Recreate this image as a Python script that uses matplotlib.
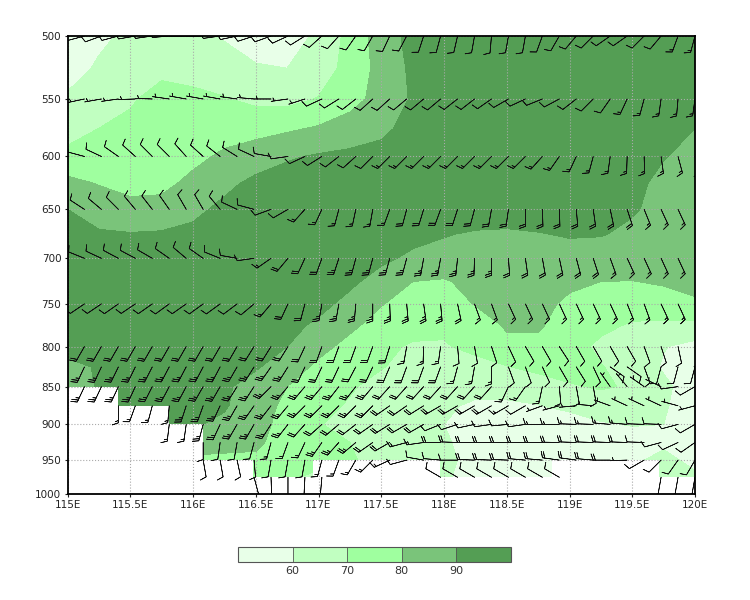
import numpy as np
import matplotlib
matplotlib.use('Agg')
import matplotlib.pyplot as plt

nan = float('nan')

# Relative humidity (rows = pressure, columns = longitude)
rh_lons = [115, 115.25, 115.5, 115.75, 116, 116.25, 116.5, 116.75, 117, 117.25, 117.5,
           117.75, 118, 118.25, 118.5, 118.75, 119, 119.25, 119.5, 119.75, 120]
rh_levs = [500, 525, 550, 575, 600, 625, 650, 675, 700, 725, 750, 775, 800, 825, 850, 875, 900, 925, 950, 975, 1000]
rh = [
    [52, 57, 63, 66, 63, 59, 55, 55, 62, 73, 85, 93, 94, 95, 95, 95, 95, 95, 95, 95, 95],
    [54, 62, 66, 68, 67, 65, 61, 60, 64, 74, 83, 92, 95, 95, 95, 95, 95, 95, 95, 95, 95],
    [62, 65, 69, 73, 72, 70.5, 68, 67, 70.5, 76, 84, 91, 94, 95, 95, 95, 95, 95, 95, 95, 94],
    [67, 70, 72, 74, 75, 75, 76, 78.5, 81, 85, 88, 93, 95, 95, 95, 95, 95, 95, 95, 94, 90],
    [72, 73, 74, 75, 77, 82, 86, 89, 91, 92, 93, 94, 95, 95, 95, 95, 95, 95, 94, 90.5, 87],
    [83, 79.5, 76, 77, 83, 88, 92, 94, 95, 95, 95, 95, 95, 95, 95, 95, 95, 95, 93, 87, 84],
    [90, 86, 84, 84, 88, 92, 94, 95, 95, 95, 95, 95, 95, 95, 95, 95, 95, 94, 91, 87, 85],
    [92, 91, 90.5, 91, 92, 93, 94, 94, 94, 93, 92.5, 91.5, 90.5, 89, 88.5, 89.5, 90.8, 90.5, 88, 85, 84],
    [93, 93, 93, 94, 94, 94, 94, 94, 94, 93, 91, 89, 87, 86, 85, 85, 86, 85.5, 85, 84, 83],
    [93, 93, 94, 94, 94, 94, 94, 94, 93, 91, 88, 80, 79, 83, 85, 84, 82, 80, 79.8, 81, 82],
    [93, 93, 94, 94, 94, 94, 94, 93, 91.5, 88.5, 80.5, 76, 75, 80.5, 85, 83, 78, 74, 74, 76, 79],
    [93, 94, 94, 94, 94, 94, 93, 91.5, 89, 82, 76, 73, 72, 75, 81, 81, 76, 72, 69, 68, 67],
    [94, 94, 94, 94, 94, 94, 93, 90, 83, 77, 72, 69, 69, 73, 78, 78, 74, 68, 63, 60.5, 57],
    [87, 91, 93, 94, 94, 93, 91, 85, 78, 73, 70.5, 67, 65, 66, 69.5, 73, 74, 70.5, 66, 59, 55],
    [83, 91, 93, 94, 93, 91.5, 86, 80, 75, 71, 67, 65, 63, 61, 61.5, 64, 69, 71, 69, 62, 55],
    [92, 92, 92, 92, 92, 91, 84, 78, 73, 69, 66, 63, 60.5, 59.5, 59.3, 59.7, 62, 65, 64, 61, 55],
    [92, 92, 92, 92, 91, 88, 83, 77, 70.5, 67, 65, 62, 60, 57, 55, 55, 56, 59, 60.5, 60, 55],
    [90, 90, 90, 90, 85, 83, 82, 75, 72, 70, 67, 64, 61, 57, 54, 54, 54, 54, 56, 58, 55],
    [80, 80, 80, 80, 78, 78, 78, 74, 74, 71, 67, 64, 61.5, 58, 55, 54, 54, 55, 58, 63, 57],
    [80, 80, 80, 80, 80, 80, 74, 72, 67, 66, 65, 63, 61, 57, 56, 56, 57, 60, 62, 64, 62],
    [80, 80, 80, 80, 80, 80, 74, 72, 67, 66, 65, 63, 61, 57, 56, 56, 57, 60, 62, 64, 62],
]
rh_levels = [60, 70, 80, 90]
rh_colors = ['#e8ffe8', '#c1ffc1', '#9fff9f', '#7ac47a', '#549e54']

# No data below ground: (start longitude of the step, pressure of its top)
ground_lon = [115, 115.40, 115.81, 116.08, 116.48, 116.96, 117.97, 118.86, 119.71, 120]
ground_top = [850, 875, 900, 950, 975, 950, 975, 950, 975, 975]

# Wind barbs: direction the wind comes from (degrees) and speed (knots)
barb_levs = [500, 550, 600, 650, 700, 750, 800, 825, 850, 875, 900, 925, 950, 975]
dir_500 = [255, 255, 250, 255, 260, 262, 265, 268, 268, 262, 258, 252, 250, 245, 238, 228, 222, 215, 210,
           205, 208, 198, 195, 193, 190, 185, 190, 190, 200, 210, 220, 225, 235, 235, 225, 220, 200, 195]
spd_500 = [10, 10, 10, 10, 10, 10, 10, 10, 10, 10, 10, 10, 10, 10, 10, 10, 10, 10, 10,
           10, 10, 10, 10, 10, 10, 10, 10, 10, 10, 10, 10, 10, 10, 10, 10, 10, 15, 15]
dir_550 = [258, 258, 260, 262, 268, 272, 278, 280, 280, 280, 278, 275, 270, 262, 252, 245, 238, 232, 228,
           228, 230, 230, 230, 232, 232, 235, 240, 245, 248, 242, 232, 225, 215, 205, 195, 188, 185, 188]
spd_550 = [5, 5, 5, 5, 5, 5, 5, 5, 5, 5, 5, 5, 5, 5, 5, 10, 10, 10, 10,
           10, 10, 10, 10, 10, 10, 10, 10, 10, 10, 10, 10, 10, 10, 15, 15, 15, 15, 15]
dir_600 = [280, 285, 295, 305, 312, 315, 315, 318, 312, 308, 302, 295, 280, 262, 245, 238, 232, 228, 225,
           225, 225, 225, 225, 225, 225, 225, 225, 225, 222, 215, 205, 195, 188, 182, 178, 172, 165, 165]
spd_600 = [10, 10, 10, 10, 10, 10, 10, 10, 10, 10, 10, 10, 10, 10, 10, 10, 10, 10, 10,
           15, 15, 15, 15, 15, 15, 15, 15, 15, 15, 15, 15, 15, 15, 15, 15, 15, 15, 15]
dir_650 = [300, 303, 310, 315, 320, 322, 325, 330, 330, 320, 295, 285, 250, 240, 222, 205, 195, 192, 190,
           200, 195, 197, 200, 198, 195, 190, 188, 180, 178, 178, 175, 172, 168, 162, 158, 155, 155, 155]
spd_650 = [10, 10, 10, 10, 10, 10, 10, 10, 10, 10, 10, 10, 10, 10, 15, 15, 15, 15, 15,
           15, 20, 20, 20, 20, 20, 20, 20, 20, 20, 20, 20, 20, 20, 20, 15, 15, 15, 15]
dir_700 = [290, 292, 295, 298, 298, 300, 305, 310, 305, 292, 280, 262, 235, 220, 205, 200, 198, 195, 195,
           195, 195, 190, 190, 186, 182, 180, 176, 172, 170, 168, 165, 162, 160, 155, 155, 155, 155, 155]
spd_700 = [10, 10, 10, 10, 10, 10, 10, 10, 10, 10, 10, 10, 15, 20, 20, 20, 25, 25, 25,
           25, 25, 25, 25, 25, 25, 25, 20, 20, 20, 20, 20, 20, 15, 15, 15, 15, 15, 15]
dir_750 = [235, 236, 236, 235, 236, 235, 234, 235, 234, 234, 233, 230, 220, 205, 195, 190, 190, 185, 180,
           178, 175, 172, 175, 168, 160, 160, 155, 155, 155, 155, 155, 155, 155, 158, 160, 155, 155, 155]
spd_750 = [10, 10, 10, 10, 10, 10, 10, 10, 10, 10, 10, 10, 15, 20, 20, 25, 25, 25, 25,
           25, 25, 25, 25, 20, 15, 15, 15, 15, 15, 15, 15, 15, 15, 15, 15, 15, 15, 15]
dir_800 = [210, 210, 210, 210, 210, 210, 210, 210, 210, 210, 210, 212, 212, 212, 205, 200, 200, 200, 200,
           197, 190, 182, 188, 175, 170, 162, 155, 150, 150, 147, 150, 150, 150, 150, 160, 162, 168, 165]
spd_800 = [20, 20, 20, 20, 20, 20, 20, 20, 20, 20, 20, 20, 20, 20, 20, 20, 20, 20, 20,
           20, 15, 15, 15, 10, 10, 10, 10, 10, 10, 10, 10, 10, 10, 10, 10, 10, 10, 10]
dir_825 = [205, 205, 205, 206, 206, 207, 208, 208, 208, 208, 210, 212, 215, 212, 205, 205, 205, 208, 205,
           203, 200, 200, 200, 195, 190, 180, 160, 160, 155, 150, 148, 155, 125, 125, 160, 195, 195, 195]
spd_825 = [25, 25, 25, 25, 25, 25, 25, 25, 25, 25, 25, 25, 25, 25, 20, 20, 20, 20, 20,
           20, 20, 20, 20, 15, 15, 15, 10, 10, 10, 10, 10, 10, 10, 10, 10, 10, 10, 10]
dir_850 = [205, 205, 205, 205, 205, 207, 208, 208, 210, 210, 212, 213, 225, 220, 220, 220, 218, 218, 220,
           222, 222, 222, 222, 222, 222, 222, 205, 215, 192, 175, 170, 170, 325, 320, 305, 295, 262, 240]
spd_850 = [25, 25, 25, 25, 25, 25, 25, 25, 25, 25, 25, 25, 25, 25, 25, 25, 25, 25, 25,
           20, 20, 20, 20, 20, 20, 20, 15, 15, 15, 10, 10, 10, 5, 5, 5, 5, 10, 10]
dir_875 = [nan, nan, nan, 180, 200, 195, 185, 198, 200, 205, 210, 215, 218, 220, 225, 225, 225, 225, 225,
           235, 235, 238, 240, 240, 240, 240, 240, 240, 250, 255, 265, 275, 290, 295, 295, 295, 285, 255]
spd_875 = [nan, nan, nan, 15, 15, 15, 15, 25, 25, 25, 25, 25, 25, 25, 25, 25, 25, 25, 25,
           20, 20, 20, 20, 20, 20, 20, 15, 10, 5, 5, 5, 5, 5, 5, 5, 5, 5, 5]
dir_900 = [nan, nan, nan, nan, nan, nan, 187, 188, 195, 205, 210, 210, 213, 218, 222, 228, 230, 232, 235,
           238, 240, 240, 248, 252, 258, 262, 265, 262, 270, 270, 272, 272, 275, 275, 272, 272, 255, 240]
spd_900 = [nan, nan, nan, nan, nan, nan, 15, 15, 25, 25, 25, 25, 25, 25, 20, 20, 20, 20, 20,
           20, 20, 20, 10, 10, 10, 10, 10, 10, 15, 15, 15, 15, 15, 15, 10, 10, 10, 10]
dir_925 = [nan, nan, nan, nan, nan, nan, nan, nan, 180, 188, 190, 195, 195, 200, 205, 215, 222, 230, 235,
           240, 255, 262, 270, 272, 270, 270, 270, 270, 270, 271, 272, 272, 272, 272, 272, 255, 245, 235]
spd_925 = [nan, nan, nan, nan, nan, nan, nan, nan, 10, 10, 10, 10, 15, 15, 15, 25, 25, 25, 20,
           20, 15, 15, 20, 20, 20, 20, 20, 20, 20, 20, 20, 20, 20, 20, 10, 10, 10, 10]
dir_950 = [nan, nan, nan, nan, nan, nan, nan, nan, 170, 170, 168, 175, 190, 190, 190, 195, 200, 210, 225,
           245, 255, 280, 275, 270, 272, 272, 272, 275, 275, 278, 278, 275, 270, 268, 240, 225, 215, 210]
spd_950 = [nan, nan, nan, nan, nan, nan, nan, nan, 10, 10, 10, 10, 10, 10, 10, 15, 15, 15, 15,
           15, 10, 10, 10, 10, 20, 20, 20, 20, 20, 20, 20, 20, 20, 5, 10, 10, 10, 10]
dir_975 = [nan, nan, nan, nan, nan, nan, nan, nan, nan, nan, nan, 165, 178, 180, 183, 185, nan, nan, nan,
           nan, nan, nan, 300, 300, 300, 300, 300, 300, 300, 300, nan, nan, nan, nan, nan, 190, 190, 190]
spd_975 = [nan, nan, nan, nan, nan, nan, nan, nan, nan, nan, nan, 10, 10, 10, 10, 10, nan, nan, nan,
           nan, nan, nan, 10, 10, 10, 10, 10, 10, 10, 10, nan, nan, nan, nan, nan, 10, 10, 10]

x_ticks = [115, 115.5, 116, 116.5, 117, 117.5, 118, 118.5, 119, 119.5, 120]
x_labels = ['115E', '115.5E', '116E', '116.5E', '117E', '117.5E', '118E', '118.5E', '119E', '119.5E', '120E']
y_ticks = [500, 550, 600, 650, 700, 750, 800, 850, 900, 950, 1000]

plt.rcParams['font.family'] = ['DejaVu Sans']

fig = plt.figure(figsize=(7.5, 6), dpi=100)
ax = fig.add_axes([67.5 / 750, 1 - 494 / 600, (695 - 67.5) / 750, (494 - 36) / 600])

# Shaded humidity
cs = ax.contourf(rh_lons, rh_levs, rh, levels=rh_levels, colors=rh_colors, extend='both', zorder=1)

# Blank out what is below ground
ax.fill_between(ground_lon, ground_top, 1000, step='post', color='white', lw=0, zorder=1.5)

ax.set_yscale('log')
ax.set_xlim(115, 120)
ax.set_ylim(1000, 500)
ax.set_xticks(x_ticks)
ax.set_xticklabels(x_labels)
ax.set_yticks(y_ticks)
ax.set_yticklabels([str(p) for p in y_ticks])
ax.minorticks_off()
ax.tick_params(labelsize=7.5, length=2.5, width=0.8, pad=2, colors='#222222')
ax.grid(color='#aaaaaa', linestyle=':', linewidth=0.8, zorder=2)
ax.set_axisbelow(False)
for s in ax.spines.values():
    s.set_linewidth(1.3)
    s.set_zorder(5)

# Wind barbs, anchored at the staff tip on each grid point
barb_lons = np.linspace(115, 120, 38)
dirs = np.array([dir_500, dir_550, dir_600, dir_650, dir_700, dir_750, dir_800,
                 dir_825, dir_850, dir_875, dir_900, dir_925, dir_950, dir_975])
spds = np.array([spd_500, spd_550, spd_600, spd_650, spd_700, spd_750, spd_800,
                 spd_825, spd_850, spd_875, spd_900, spd_925, spd_950, spd_975])
X, Y = np.meshgrid(barb_lons, barb_levs)
ok = np.isfinite(dirs)
u = -spds[ok] * np.sin(np.radians(dirs[ok]))
v = -spds[ok] * np.cos(np.radians(dirs[ok]))
ax.barbs(X[ok], Y[ok], u, v, length=4.95, pivot='tip', linewidth=0.5,
         barbcolor='#111111', flagcolor='#111111', zorder=3,
         barb_increments=dict(half=5, full=10, flag=50),
         sizes=dict(spacing=0.13, height=0.36, width=0.25))

# Colour bar
cax = fig.add_axes([238 / 750, 1 - 562 / 600, 273 / 750, 15 / 600])
cb = fig.colorbar(cs, cax=cax, orientation='horizontal', ticks=rh_levels,
                  extendrect=True, extendfrac=1 / 3, drawedges=True)
cb.outline.set_linewidth(0.8)
cb.outline.set_edgecolor('#555555')
cb.dividers.set_color('#555555')
cb.dividers.set_linewidth(0.6)
cb.ax.tick_params(labelsize=8, length=0, pad=3, colors='#333333')
cb.ax.set_xticklabels(['60', '70', '80', '90'])

fig.savefig('out.png', dpi=100)
